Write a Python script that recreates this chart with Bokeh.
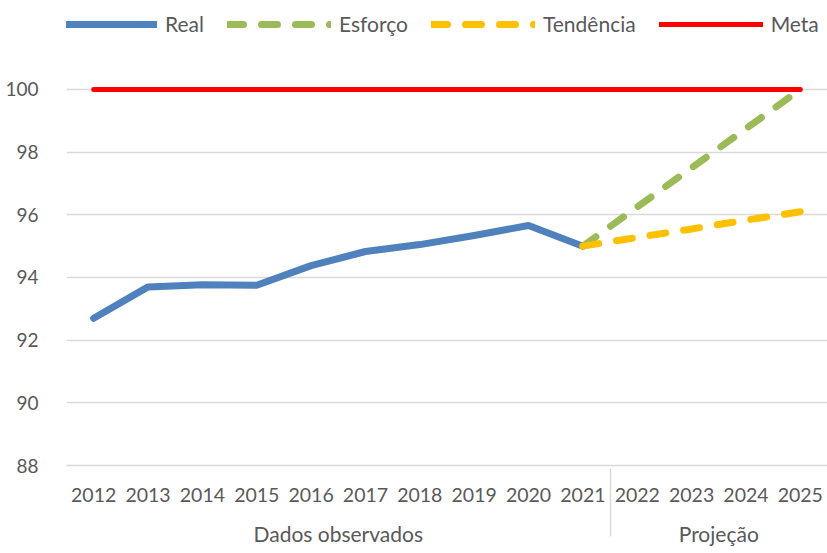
from bokeh.plotting import figure
from bokeh.models import (FactorRange, ColumnDataSource, Legend, LegendItem,
                          FixedTicker, Range1d)
from bokeh.embed import file_html
from bokeh.resources import INLINE

# ---- data ----
observed_years = ["2012", "2013", "2014", "2015", "2016", "2017", "2018",
                  "2019", "2020", "2021"]
projection_years = ["2022", "2023", "2024", "2025"]
group_observed = "Dados observados"
group_projection = "Projeção"

real = [92.7, 93.7, 93.77, 93.75, 94.38, 94.83, 95.05, 95.34, 95.66, 95.0]
esforco = [95.0, 96.25, 97.5, 98.75, 100.0]      # 2021..2025
tendencia = [95.0, 95.28, 95.55, 95.83, 96.1]    # 2021..2025
meta = [100.0] * 14                              # 2012..2025
y_ticks = [88, 90, 92, 94, 96, 98, 100]

# ---- build factors ----
factors = [(group_observed, y) for y in observed_years] + \
          [(group_projection, y) for y in projection_years]

FONT = "Lato"
TXT = "#595959"
GRID = "#D9D9D9"

p = figure(x_range=FactorRange(factors=factors, factor_padding=0,
                               group_padding=0, subgroup_padding=0,
                               range_padding=0),
           y_range=Range1d(88, 102.84),
           width=827, height=553, output_backend="svg",
           toolbar_location=None,
           min_border_left=66, min_border_right=0, min_border_top=0,
           min_border_bottom=88)
p.outline_line_color = None
p.background_fill_color = "white"

src_meta = ColumnDataSource(dict(x=factors, y=meta))
src_real = ColumnDataSource(dict(x=factors[:10], y=real))
src_esf = ColumnDataSource(dict(x=factors[9:], y=esforco))
src_ten = ColumnDataSource(dict(x=factors[9:], y=tendencia))

r_meta = p.line("x", "y", source=src_meta, line_color="#FF0000",
                line_width=5, line_cap="round")
r_real = p.line("x", "y", source=src_real, line_color="#4F81BD",
                line_width=7, line_cap="round", line_join="round")
r_esf = p.line("x", "y", source=src_esf, line_color="#9BBB59",
               line_width=7, line_cap="round", line_dash="16 18")
r_ten = p.line("x", "y", source=src_ten, line_color="#FFC000",
               line_width=7, line_cap="round", line_dash="16 18")

legend = Legend(items=[LegendItem(label="Real", renderers=[r_real]),
                       LegendItem(label="Esforço", renderers=[r_esf]),
                       LegendItem(label="Tendência", renderers=[r_ten]),
                       LegendItem(label="Meta", renderers=[r_meta])],
                location=(-13, 429), orientation="horizontal",
                glyph_width=104, glyph_height=20, label_standoff=8,
                spacing=23, padding=1, margin=0,
                border_line_color=None, background_fill_alpha=0,
                label_text_font=FONT, label_text_font_size="21px",
                label_text_color=TXT)
p.add_layout(legend)

# y axis
p.yaxis.ticker = FixedTicker(ticks=y_ticks)
p.yaxis.axis_line_color = None
p.yaxis.major_tick_line_color = None
p.yaxis.minor_tick_line_color = None
p.yaxis.major_label_standoff = 22
p.yaxis.major_label_text_font = FONT
p.yaxis.major_label_text_font_size = "19px"
p.yaxis.major_label_text_color = TXT
p.ygrid.ticker = FixedTicker(ticks=y_ticks)
p.ygrid.grid_line_color = GRID
p.ygrid.grid_line_width = 1.5
p.xgrid.grid_line_color = None

# x axis
xa = p.xaxis[0]
xa.axis_line_color = GRID
xa.axis_line_width = 1.5
xa.major_tick_line_color = None
xa.minor_tick_line_color = None
xa.major_label_standoff = 16
xa.major_label_text_font = FONT
xa.major_label_text_font_size = "19.5px"
xa.major_label_text_color = TXT
xa.group_text_font = FONT
xa.group_text_font_size = "21px"
xa.group_text_color = TXT
xa.group_text_font_style = "normal"
xa.separator_line_color = GRID
xa.separator_line_width = 1.5

open("out.html", "w").write(file_html(p, INLINE))
